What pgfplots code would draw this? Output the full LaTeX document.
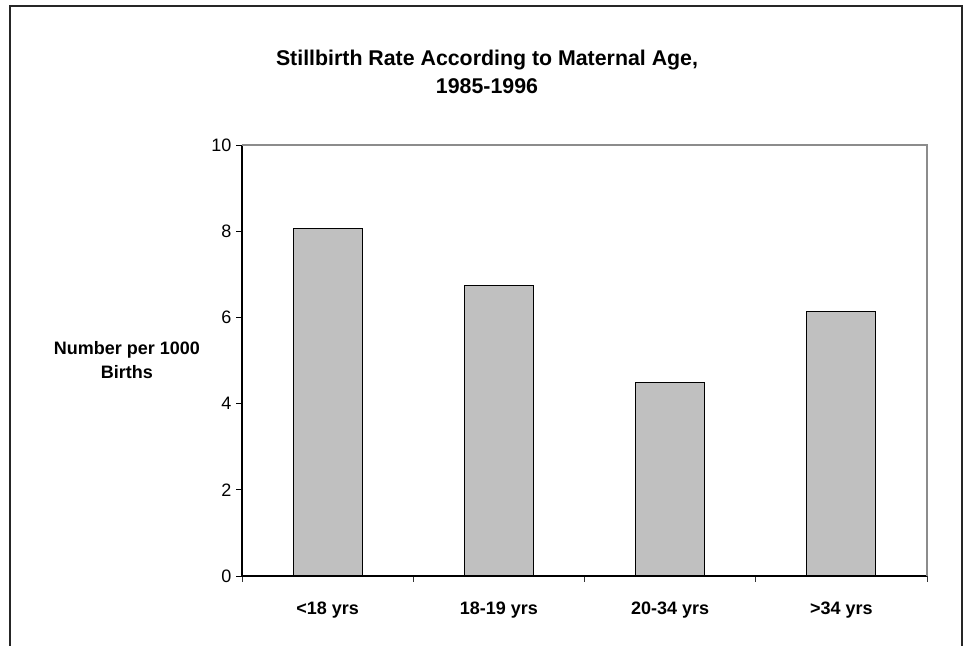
\documentclass[border=0pt]{standalone}
\usepackage{pgfplots}
\pgfplotsset{compat=1.18}
\usepackage{fontspec}
\setmainfont{Liberation Sans}

\definecolor{barfill}{HTML}{C0C0C0}
\definecolor{boxgray}{HTML}{8C8C8C}

\begin{document}
\begin{tikzpicture}
% page: 964 x 646 px at 0.75pt per px
\useasboundingbox (0,0) rectangle (723pt,484.5pt);
\draw[line width=1.5pt, black!85] (7.5pt,-3pt) |- (721.5pt,480pt) -- (721.5pt,-3pt);

\node[align=center, font=\bfseries\fontsize{16}{21}\selectfont]
  at (365.25pt,430.9pt) {Stillbirth Rate According to Maternal Age,\\1985-1996};

\begin{axis}[
  at={(181.5pt,52.5pt)}, anchor=south west,
  scale only axis,
  width=513.75pt, height=323.25pt,
  xmin=-0.5, xmax=3.5,
  ymin=0, ymax=10,
  ytick={0,2,...,10},
  xtick={-0.5,0.5,1.5,2.5,3.5},
  xticklabels={},
  x tick style={draw=black!80, line width=0.6pt},
  extra x ticks={0,1,2,3},
  extra x tick labels={<18 yrs,18-19 yrs,20-34 yrs,>34 yrs},
  extra x tick style={major tick length=0pt, tick style={draw=none}},
  axis lines=left,
  axis line style={-, line width=0.8pt},
  tick align=outside,
  major tick length=4.5pt,
  y tick style={line width=0.6pt, black},
  /pgf/number format/assume math mode=true,
  tick label style={font=\fontsize{13.5}{16}\selectfont},
  xticklabel style={font=\bfseries\fontsize{13.5}{16}\selectfont, yshift=-16pt},
  ylabel={Number per 1000\\Births},
  ylabel style={at={(axis description cs:-0.168,0.5)}, rotate=-90, anchor=center,
    align=center, font=\bfseries\fontsize{13.5}{18}\selectfont},
  clip=false,
]
\addplot[ybar, bar width=0.403, fill=barfill, draw=black, line width=0.8pt]
  coordinates {(0,8.07) (1,6.74) (2,4.49) (3,6.13)};
\draw[boxgray, line width=0.8pt] (rel axis cs:0,1) -- (rel axis cs:1,1) -- (rel axis cs:1,0);
\end{axis}
\end{tikzpicture}
\end{document}
